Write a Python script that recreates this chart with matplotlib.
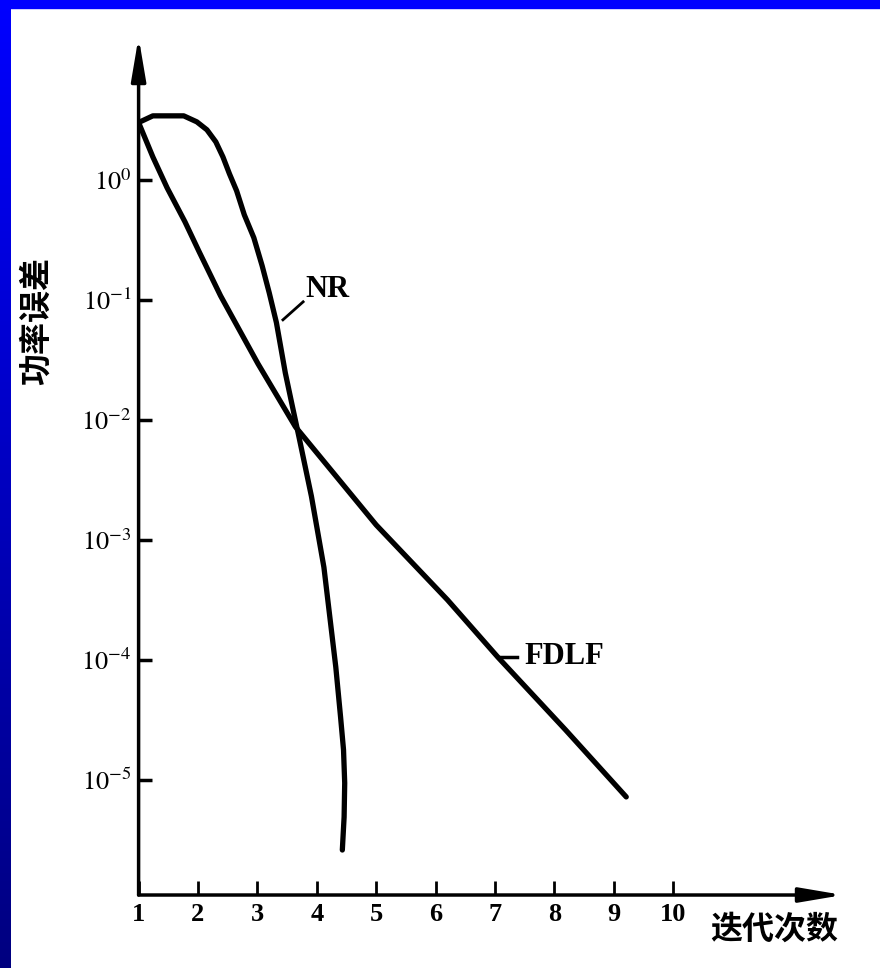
import matplotlib
matplotlib.use('Agg')
import matplotlib.pyplot as plt
import numpy as np
from matplotlib.patches import Rectangle
from matplotlib.ticker import NullLocator

plt.rcParams['font.family'] = ['Liberation Serif', 'Noto Sans CJK SC', 'DejaVu Sans']
plt.rcParams['mathtext.fontset'] = 'stix'

# iteration axis
iters = [1, 2, 3, 4, 5, 6, 7, 8, 9, 10]
decades = [0, -1, -2, -3, -4, -5]

# power error vs. iteration count
fdlf_iter = [1.0, 1.24, 1.48, 1.78, 2.02, 2.38, 3.01, 3.64, 5.0, 6.2, 7.05, 8.19, 9.21]
fdlf_err = [3.0, 1.55, 0.857, 0.447, 0.251, 0.108, 0.0293, 0.00875, 0.00133,
            3.16e-4, 1.05e-4, 2.6e-5, 7.2e-6]

nr_iter = [1.0, 1.24, 1.76, 1.98, 2.15, 2.30, 2.42, 2.53, 2.65, 2.78, 2.94, 3.08,
           3.20, 3.32, 3.47, 3.59, 3.70, 3.91, 4.12, 4.32, 4.40, 4.45, 4.47, 4.46, 4.43]
nr_err = [3.0, 3.41, 3.41, 3.04, 2.61, 2.07, 1.55, 1.12, 0.81, 0.51, 0.329, 0.192,
          0.114, 0.0646, 0.0246, 0.0129, 0.0072, 0.0023, 5.9e-4, 8.7e-5, 3.35e-5,
          1.78e-5, 9.4e-6, 4.9e-6, 2.6e-6]

fig = plt.figure(figsize=(8.8, 9.68), dpi=100)
fig.patch.set_facecolor('white')

# blue slide frame: gradient strip on the left, solid band on top
g = np.linspace(1.0, 0.5, 256).reshape(-1, 1)
rgb = np.dstack([np.zeros_like(g), np.zeros_like(g), g])
side = fig.add_axes([0, 0, 10 / 880, 1])
side.imshow(rgb, aspect='auto')
side.axis('off')
fig.add_artist(Rectangle((0, 1 - 8 / 968), 1, 8 / 968, transform=fig.transFigure,
                         color=(0, 0, 1), zorder=5))

ax = fig.add_axes([0.1575, 0.0754, 0.8005, 0.8864])
ax.set_yscale('log')
ax.set_xlim(1, 12.86)
ax.set_ylim(10 ** -5.96, 10 ** 1.19)

ax.plot(fdlf_iter, fdlf_err, color='black', lw=3.8,
        solid_capstyle='round', solid_joinstyle='round')
ax.plot(nr_iter, nr_err, color='black', lw=3.8,
        solid_capstyle='round', solid_joinstyle='round')

# axes drawn as arrows
for s in ax.spines.values():
    s.set_visible(False)
arrow = dict(arrowstyle='-|>,head_length=1.3,head_width=0.22', lw=2.5,
             color='black', shrinkA=0, shrinkB=0, mutation_scale=20)
ax.annotate('', xy=(1.0, 0), xytext=(0, 0), xycoords='axes fraction', arrowprops=arrow)
ax.annotate('', xy=(0, 1.0), xytext=(0, 0), xycoords='axes fraction', arrowprops=arrow)

ax.set_xticks(iters)
ax.set_xticklabels([str(i) for i in iters], fontsize=19, fontweight='bold')
ax.tick_params(axis='x', direction='in', length=10, width=2, pad=6)

ax.set_yticks([10.0 ** d for d in decades])
ax.set_yticklabels([f'$10^{{{d}}}$' if d == 0 else f'$10^{{-{-d}}}$' for d in decades],
                   fontsize=19)
ax.yaxis.set_minor_locator(NullLocator())
ax.tick_params(axis='y', direction='in', length=9, width=2.5, pad=5)

# curve labels with leader lines
ax.plot([3.43, 3.77], [10 ** -1.167, 10 ** -1.017], color='black', lw=2)
ax.text(3.80, 10 ** -0.917, 'NR', fontsize=22, fontweight='bold', va='center')
ax.plot([7.07, 7.37], [10 ** -3.975, 10 ** -3.975], color='black', lw=2.5)
ax.text(7.50, 10 ** -3.975, 'FDLF', fontsize=22, fontweight='bold', va='center')

cjk = ['Noto Sans CJK SC', 'DejaVu Sans']
fig.text(710 / 880, 1 - 930 / 968, '迭代次数', fontsize=23, family=cjk,
         fontweight='bold', ha='left', va='center')
fig.text(37 / 880, 1 - 321 / 968, '功率误差', fontsize=23, family=cjk,
         fontweight='bold', rotation=90, ha='center', va='center')

fig.savefig('out.png', dpi=100)
